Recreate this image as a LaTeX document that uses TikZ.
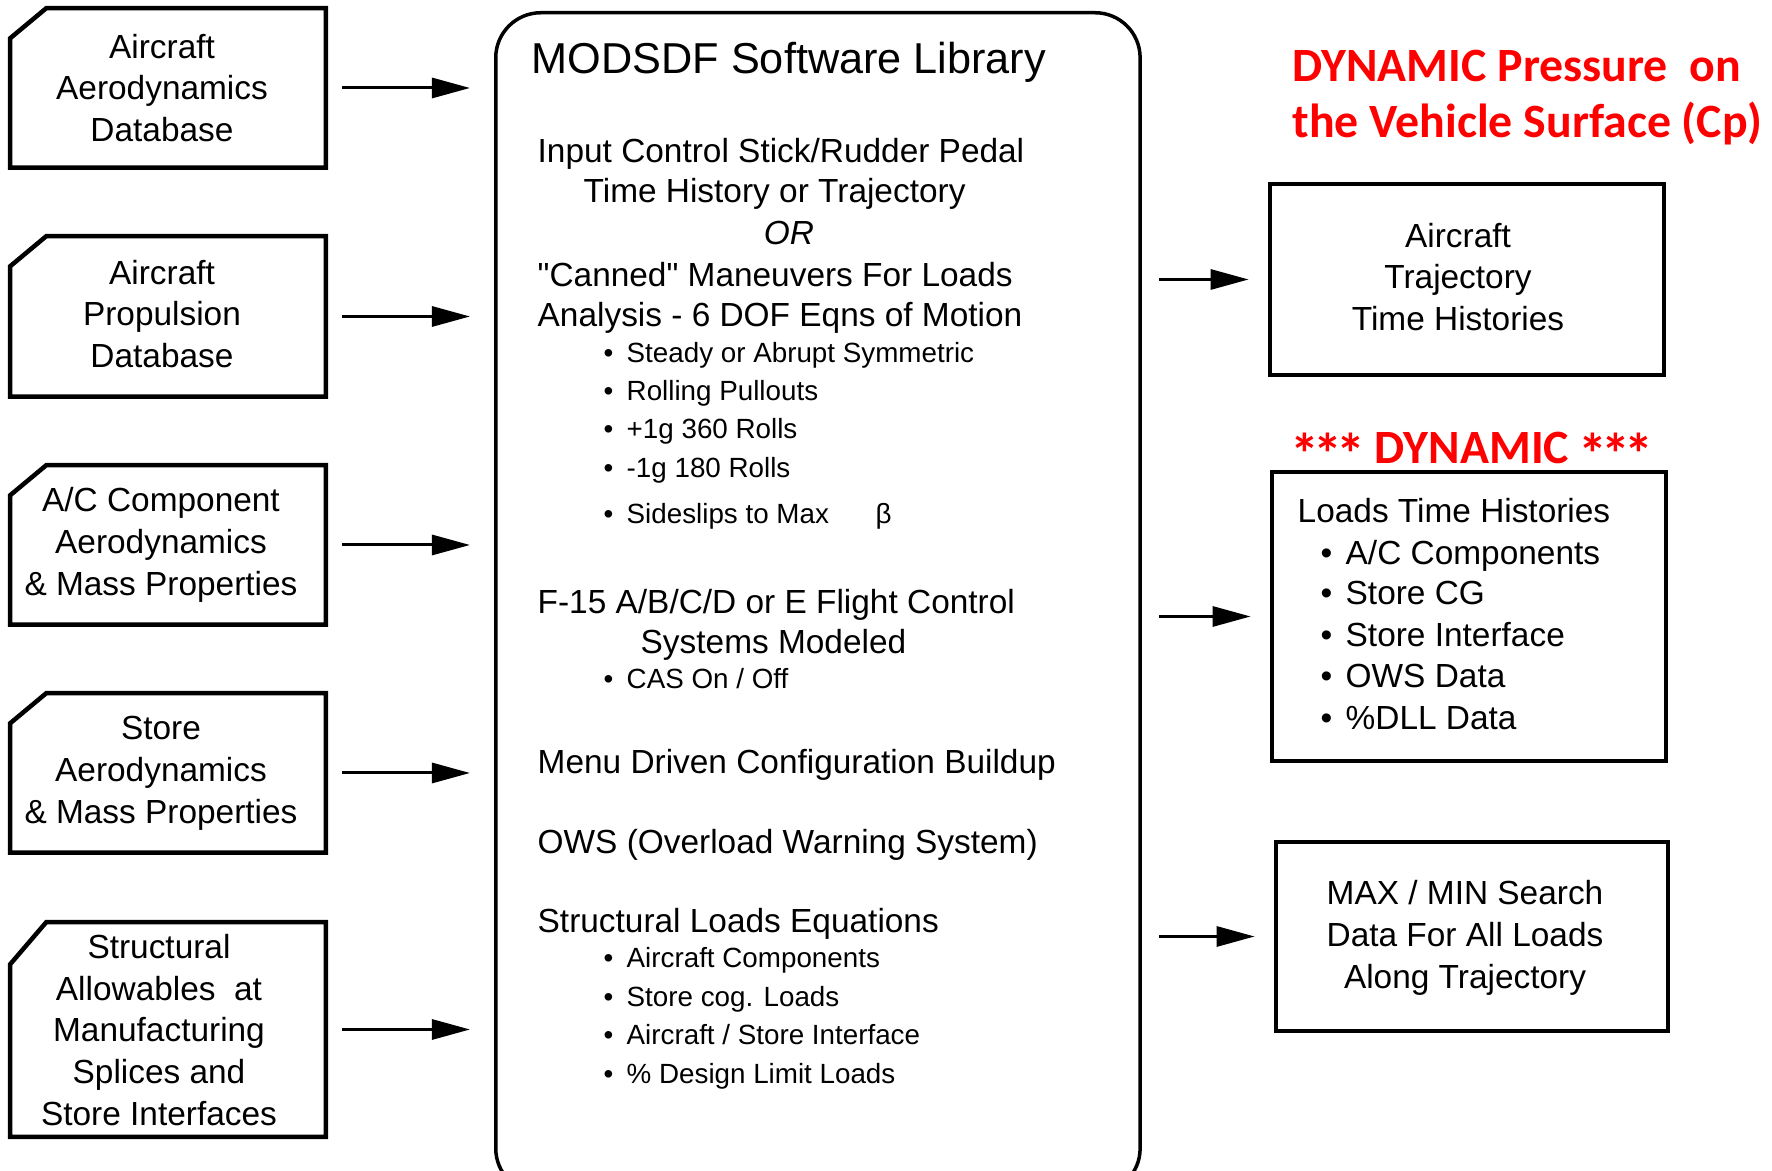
\documentclass[tikz,border=0pt]{standalone}
\usepackage{fontspec}
\setmainfont{Liberation Sans}[Ligatures=TeXOff]
\newfontfamily\calibfont{Carlito}
\usetikzlibrary{arrows.meta,calc}

\newcommand\bodysize{\fontsize{9.5pt}{11.9pt}\selectfont}
\newcommand\bulletsize{\fontsize{7.9pt}{10pt}\selectfont}
\newcommand\headsize{\fontsize{12.3pt}{14pt}\selectfont}
\newcommand\redsize{\calibfont\bfseries\fontsize{13.6pt}{16pt}\selectfont}
% three enlarged asterisks used around the red DYNAMIC label
\newcommand\stars{\raisebox{-0.22em}{\fontsize{16.5pt}{16.5pt}\selectfont *\kern-0.1em*\kern-0.1em*}}
% outline of an input box with its top-left corner cut off
\newcommand\chamferframe[2]{%
  \draw[frame] ($(#1.north west)+(0,#2)$) -- ($(#1.north west)+(36,0)$)
    -- (#1.north east) -- (#1.south east) -- (#1.south west) -- cycle;}

\begin{document}
\begin{tikzpicture}[x=0.01cm,y=-0.01cm,
  frame/.style={line width=0.045cm, line join=miter},
  inbox/.style={inner sep=0pt, minimum width=3.14cm},
  intext/.style={inner sep=0pt, align=center, font=\bodysize},
  outbox/.style={draw, line width=0.045cm, inner sep=0pt},
  outtext/.style={inner sep=0pt, align=center, font=\bodysize},
  arr/.style={line width=0.03cm, -{Triangle[length=0.38cm,width=0.2cm]}},
  txt/.style={anchor=base west, inner sep=0pt, font=\bodysize},
  sub/.style={anchor=base west, inner sep=0pt, font=\bulletsize},
  redtxt/.style={inner sep=0pt, text=red, font=\redsize}]
\useasboundingbox (0,0) rectangle (1772,1171);
\clip (0,0) rectangle (1772,1171);

% ---------- input databases ----------
\node[inbox, minimum height=1.58cm] (b1) at (168,88) {};
\chamferframe{b1}{30}
\node[intext] (b1t) at (162,88) {Aircraft\\Aerodynamics\\Database};
\node[inbox, minimum height=1.59cm] (b2) at (168,316.5) {};
\chamferframe{b2}{30}
\node[intext] (b2t) at (162,314) {Aircraft\\Propulsion\\Database};
\node[inbox, minimum height=1.58cm] (b3) at (168,545) {};
\chamferframe{b3}{30}
\node[intext] (b3t) at (161,545) {A/C Component\\Aerodynamics\\\& Mass Properties};
\node[inbox, minimum height=1.58cm] (b4) at (168,773) {};
\chamferframe{b4}{30}
\node[intext] (b4t) at (161,773) {Store\\Aerodynamics\\\& Mass Properties};
\node[inbox, minimum height=2.13cm] (b5) at (168,1029.5) {};
\chamferframe{b5}{42}
\node[intext] (b5t) at (159,1030) {Structural\\Allowables\ \ at\\Manufacturing\\Splices and\\Store Interfaces};

% ---------- software library ----------
\node[draw, line width=0.035cm, rounded corners=0.45cm, inner sep=0pt,
      minimum width=6.44cm, minimum height=11.8cm, anchor=north west] (mods) at (494,11) {};

\node[anchor=base west, inner sep=0pt, font=\headsize] (title) at (531,74) {MODSDF Software Library};
\node[txt] (t1) at (537,163) {Input Control Stick/Rudder Pedal};
\node[txt] (t2) at (583,203) {Time History or Trajectory};
\node[anchor=base, inner sep=0pt, font=\bodysize\itshape] (t3) at (789,245) {OR};
\node[txt] (t4) at (537,287) {"Canned" Maneuvers For Loads};
\node[txt] (t5) at (537,327) {Analysis - 6 DOF Eqns of Motion};
\node[sub] (s1) at (603,363) {\makebox[0.23cm][l]{•}Steady or Abrupt Symmetric};
\node[sub] (s2) at (603,401) {\makebox[0.23cm][l]{•}Rolling Pullouts};
\node[sub] (s3) at (603,439) {\makebox[0.23cm][l]{•}+1g 360 Rolls};
\node[sub] (s4) at (603,478) {\makebox[0.23cm][l]{•}-1g 180 Rolls};
\node[sub] (s5) at (603,524) {\makebox[0.23cm][l]{•}Sideslips to Max};
\node[sub] (beta) at (875,524) {β};
\node[txt] (t6) at (537,614) {F-15 A/B/C/D or E Flight Control};
\node[txt] (t7) at (640,654) {Systems Modeled};
\node[sub] (s6) at (603,689) {\makebox[0.23cm][l]{•}CAS On / Off};
\node[txt] (t8) at (537,774) {Menu Driven Configuration Buildup};
\node[txt] (t9) at (537,854) {OWS (Overload Warning System)};
\node[txt] (t10) at (537,933) {Structural Loads Equations};
\node[sub] (s7) at (603,968) {\makebox[0.23cm][l]{•}Aircraft Components};
\node[sub] (s8) at (603,1007) {\makebox[0.23cm][l]{•}Store cog. Loads};
\node[sub] (s9) at (603,1045) {\makebox[0.23cm][l]{•}Aircraft / Store Interface};
\node[sub] (s10) at (603,1084) {\makebox[0.23cm][l]{•}\% Design Limit Loads};

% ---------- outputs ----------
\node[redtxt, anchor=base west] (red1) at (1292,82) {DYNAMIC Pressure\ \ on};
\node[redtxt, anchor=base west] (red2) at (1292,138) {the Vehicle Surface (Cp)};

\node[outbox, minimum width=3.94cm, minimum height=1.91cm] (rb1) at (1467,279.5) {};
\node[outtext] (rb1t) at (1458,277) {Aircraft\\Trajectory\\Time Histories};

\node[redtxt, anchor=base] (red3) at (1472,464) {\stars\kern0.2em DYNAMIC\kern0.2em\stars};

\node[outbox, minimum width=3.94cm, minimum height=2.89cm] (rb2) at (1469,616.5) {};
\node[txt] (r0) at (1297,523) {Loads Time Histories};
\node[txt] (r1) at (1320,565) {\makebox[0.25cm][l]{•}A/C Components};
\node[txt] (r2) at (1320,605) {\makebox[0.25cm][l]{•}Store CG};
\node[txt] (r3) at (1320,647) {\makebox[0.25cm][l]{•}Store Interface};
\node[txt] (r4) at (1320,688) {\makebox[0.25cm][l]{•}OWS Data};
\node[txt] (r5) at (1320,730) {\makebox[0.25cm][l]{•}\%DLL Data};

\node[outbox, minimum width=3.92cm, minimum height=1.89cm] (rb3) at (1472,936.5) {};
\node[outtext] (rb3t) at (1465,938) {MAX / MIN Search\\Data For All Loads\\Along Trajectory};

% ---------- connectors ----------
\foreach \b in {b1,b2,b3,b4,b5}
  \draw[arr] ($(\b.east)+(16,0)$) -- ($(\b.east -| mods.west)+(-24,0)$);
\foreach \r in {rb1,rb2,rb3}
  \draw[arr] ($(\r.west -| mods.east)+(17,0)$) -- ($(\r.west)+(-19,0)$);
\end{tikzpicture}
\end{document}
